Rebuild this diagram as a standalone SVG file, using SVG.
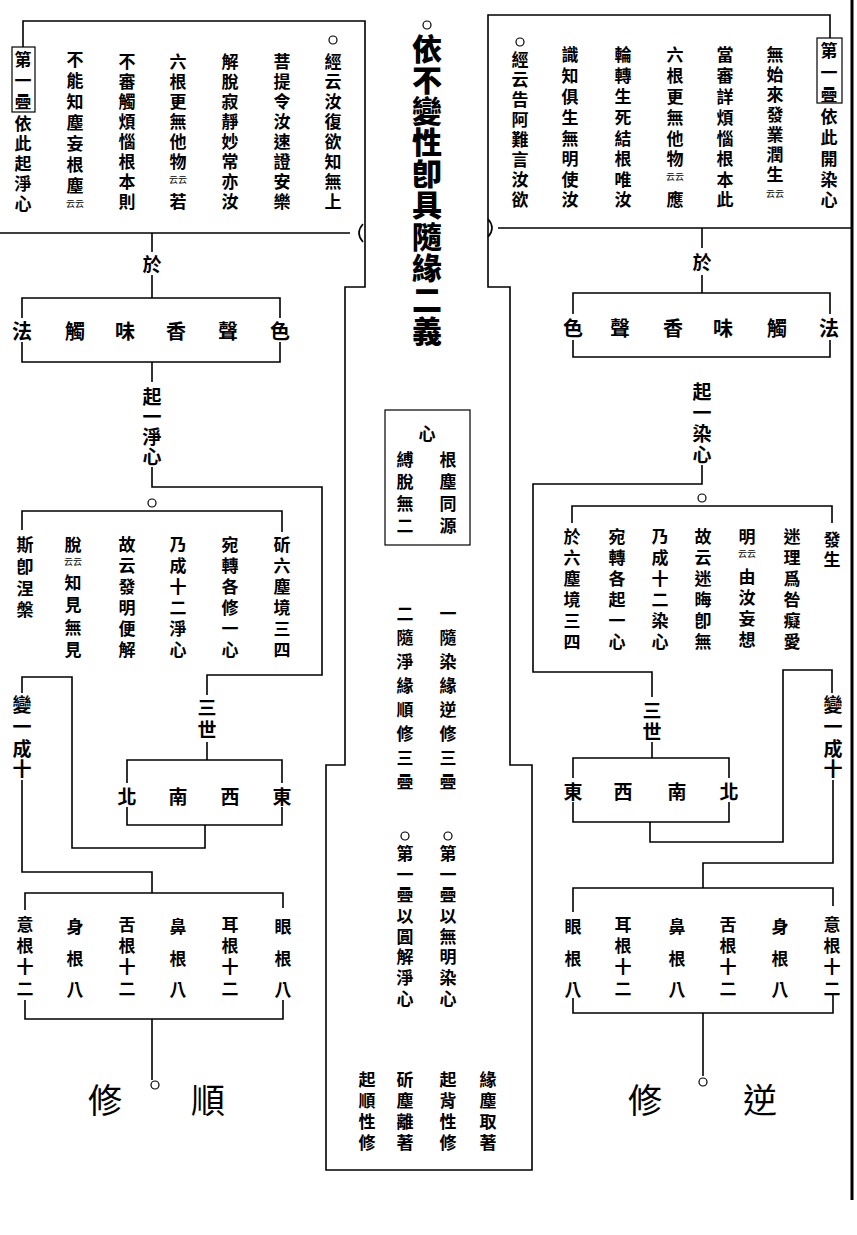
<svg xmlns="http://www.w3.org/2000/svg" width="857" height="1235" viewBox="0 0 857 1235">
<style>
.t{font-family:"Noto Sans CJK TC","Noto Sans CJK SC",sans-serif;font-weight:700;text-anchor:middle;dominant-baseline:central;fill:#000}
.f17{font-size:17px}
.f19{font-size:19px}
.f20{font-size:20px}
.f30{font-size:30px;font-weight:900}
.f34{font-size:34px;font-weight:400}
.sm{font-size:9px;font-weight:400}
.ln{stroke:#000;stroke-width:1.6;fill:none}
.bx{stroke:#000;stroke-width:1.2;fill:none}
.c{stroke:#000;stroke-width:1.2;fill:#fff}
</style>
<rect width="857" height="1235" fill="#fff"/>
<line x1="852" y1="0" x2="852" y2="1200" stroke="#000" stroke-width="3"/>

<g id="connectors" class="ln">
<polyline points="23,47 23,21 365,21 365,287 345,287 345,765 326,765 326,1170 532,1170 532,765 510,765 510,287 488,287 488,15 830,15 830,38"/>
<line x1="0" y1="233" x2="350" y2="233"/>
<path d="M363,224 Q355,233 363,242"/>
<line x1="498" y1="228" x2="852" y2="228"/>
<path d="M488,219 Q496,228 488,237"/>
<line x1="152" y1="233" x2="152" y2="252"/>
<line x1="152" y1="275" x2="152" y2="298"/>
<line x1="152" y1="362" x2="152" y2="382"/>
<polyline points="152,467 152,487 322,487 322,675 207,675 207,695"/>
<line x1="207" y1="742" x2="207" y2="760"/>
<polyline points="205,825 205,848 72,848 72,677 22,677 22,693"/>
<polyline points="22,780 22,872 152,872 152,893"/>
<line x1="152" y1="1019" x2="152" y2="1080"/>
<line x1="702" y1="228" x2="702" y2="248"/>
<line x1="702" y1="275" x2="702" y2="293"/>
<polyline points="702,465 702,484 533,484 533,672 652,672 652,697"/>
<line x1="652" y1="742" x2="652" y2="758"/>
<polyline points="650,822 650,842 783,842 783,670 832,670 832,693"/>
<polyline points="833,780 833,863 703,863 703,888"/>
<line x1="703" y1="1013" x2="703" y2="1076"/>
</g>

<g id="title">
<circle class="c" cx="427" cy="25" r="4"/>
<text class="t f30" x="427 427 427 427 427 427 427 427 427 427" y="47 78 109 140 172 203 235 266 298 329">依不變性卽具隨緣二義</text>
</g>

<g id="top-left-box">
<circle class="c" cx="333" cy="40" r="4"/>
<text class="t f17" x="333 333 333 333 333 333 333 333" y="60 80 100 120 140 160 180 200">經云汝復欲知無上</text>
<text class="t f17" x="282 282 282 282 282 282 282 282" y="60 80 100 120 140 160 180 200">菩提令汝速證安樂</text>
<text class="t f17" x="230 230 230 230 230 230 230 230" y="60 80 100 120 140 160 180 200">解脫寂靜妙常亦汝</text>
<text class="t f17" x="178 178 178 178 178 178" y="60 80 100 120 140 160">六根更無他物</text>
<text class="t sm" x="178" y="179">云云</text>
<text class="t f17" x="178" y="200">若</text>
<text class="t f17" x="127 127 127 127 127 127 127 127" y="60 80 100 120 140 160 180 200">不審觸煩惱根本則</text>
<text class="t f17" x="75 75 75 75 75 75 75" y="58 79 100 121 142 163 184">不能知塵妄根塵</text>
<text class="t sm" x="75" y="203">云云</text>
<rect class="bx" x="12" y="47" width="23" height="65"/>
<text class="t f17" x="23 23 23" y="58 79 100">第一疊</text>
<text class="t f17" x="23 23 23 23 23" y="122 142 162 182 202">依此起淨心</text>
</g>

<g id="top-right-box">
<rect class="bx" x="817" y="38" width="25" height="65"/>
<text class="t f17" x="829 829 829" y="49 71 93">第一疊</text>
<text class="t f17" x="829 829 829 829 829" y="115 136 157 178 198">依此開染心</text>
<text class="t f17" x="775 775 775 775 775 775 775" y="53 73 93 113 133 153 173">無始來發業潤生</text>
<text class="t sm" x="775" y="193">云云</text>
<text class="t f17" x="725 725 725 725 725 725 725 725" y="53 74 95 116 137 157 178 198">當審詳煩惱根本此</text>
<text class="t f17" x="675 675 675 675 675 675" y="53 74 95 116 137 157">六根更無他物</text>
<text class="t sm" x="675" y="176">云云</text>
<text class="t f17" x="675" y="198">應</text>
<text class="t f17" x="623 623 623 623 623 623 623 623" y="53 74 95 116 137 157 178 198">輪轉生死結根唯汝</text>
<text class="t f17" x="570 570 570 570 570 570 570 570" y="53 74 95 116 137 157 178 198">識知俱生無明使汝</text>
<circle class="c" cx="520" cy="42" r="4"/>
<text class="t f17" x="520 520 520 520 520 520 520 520" y="58 78 98 118 138 158 178 198">經云告阿難言汝欲</text>
</g>

<g id="label-yu-left"><text class="t f19" x="152" y="263">於</text></g>
<g id="label-yu-right"><text class="t f19" x="702" y="261">於</text></g>

<g id="six-dust-left">
<polyline class="ln" points="22,318 22,298 280,298 280,318"/>
<polyline class="ln" points="22,342 22,362 280,362 280,342"/>
<text class="t f20" x="22 75 125 176 228 280" y="330 330 330 330 330 330">法觸味香聲色</text>
</g>

<g id="six-dust-right">
<polyline class="ln" points="573,314 573,293 830,293 830,314"/>
<polyline class="ln" points="573,340 573,357 830,357 830,340"/>
<text class="t f20" x="573 620 673 723 777 829" y="327 327 327 327 327 327">色聲香味觸法</text>
</g>

<g id="label-pure-mind"><text class="t f19" x="152 152 152 152" y="395 415 435 455">起一淨心</text></g>
<g id="label-defiled-mind"><text class="t f19" x="702 702 702 702" y="390 411 432 453">起一染心</text></g>

<g id="group-left-mid">
<circle class="c" cx="152" cy="503" r="4"/>
<polyline class="ln" points="22,530 22,511 282,511 282,532"/>
<text class="t f17" x="282 282 282 282 282 282" y="543 564 585 606 627 648">斫六塵境三四</text>
<text class="t f17" x="230 230 230 230 230 230" y="543 564 585 606 627 648">宛轉各修一心</text>
<text class="t f17" x="178 178 178 178 178 178" y="543 564 585 606 627 648">乃成十二淨心</text>
<text class="t f17" x="127 127 127 127 127 127" y="543 564 585 606 627 648">故云發明便解</text>
<text class="t f17" x="73" y="543">脫</text>
<text class="t sm" x="73" y="561">云云</text>
<text class="t f17" x="73 73 73 73" y="581 603 626 648">知見無見</text>
<text class="t f17" x="25 25 25 25" y="543 565 587 608">斯卽涅槃</text>
</g>

<g id="group-right-mid">
<circle class="c" cx="702" cy="498" r="4"/>
<polyline class="ln" points="572,523 572,506 832,506 832,523"/>
<text class="t f17" x="832 832" y="538 558">發生</text>
<text class="t f17" x="792 792 792 792 792 792" y="535 556 577 598 619 640">迷理爲咎癡愛</text>
<text class="t f17" x="747" y="535">明</text>
<text class="t sm" x="747" y="553">云云</text>
<text class="t f17" x="747 747 747 747" y="575 596 617 638">由汝妄想</text>
<text class="t f17" x="703 703 703 703 703 703" y="535 556 577 598 619 640">故云迷晦卽無</text>
<text class="t f17" x="660 660 660 660 660 660" y="535 556 577 598 619 640">乃成十二染心</text>
<text class="t f17" x="617 617 617 617 617 617" y="535 556 577 598 619 640">宛轉各起一心</text>
<text class="t f17" x="572 572 572 572 572 572" y="535 556 577 598 619 640">於六塵境三四</text>
</g>

<g id="label-three-left"><text class="t f19" x="207 207" y="706 728">三世</text></g>
<g id="label-three-right"><text class="t f19" x="652 652" y="709 730">三世</text></g>

<g id="directions-left">
<polyline class="ln" points="127,783 127,760 282,760 282,783"/>
<polyline class="ln" points="127,807 127,825 282,825 282,807"/>
<text class="t f19" x="127 178 230 282" y="795 795 795 795">北南西東</text>
</g>

<g id="directions-right">
<polyline class="ln" points="573,778 573,758 729,758 729,778"/>
<polyline class="ln" points="573,802 573,822 729,822 729,802"/>
<text class="t f19" x="573 623 677 729" y="790 790 790 790">東西南北</text>
</g>

<g id="label-ten-left"><text class="t f19" x="22 22 22 22" y="703 725 747 767">變一成十</text></g>
<g id="label-ten-right"><text class="t f19" x="833 833 833 833" y="703 725 747 767">變一成十</text></g>

<g id="roots-left">
<polyline class="ln" points="25,910 25,893 283,893 283,908"/>
<polyline class="ln" points="25,1000 25,1019 283,1019 283,1000"/>
<text class="t f17" x="283 283 283" y="925 957 988">眼根八</text>
<text class="t f17" x="230 230 230 230" y="923 944 965 987">耳根十二</text>
<text class="t f17" x="178 178 178" y="925 957 988">鼻根八</text>
<text class="t f17" x="127 127 127 127" y="923 944 965 987">舌根十二</text>
<text class="t f17" x="75 75 75" y="925 957 988">身根八</text>
<text class="t f17" x="25 25 25 25" y="923 944 965 987">意根十二</text>
</g>

<g id="roots-right">
<polyline class="ln" points="573,912 573,888 833,888 833,906"/>
<polyline class="ln" points="573,998 573,1013 833,1013 833,994"/>
<text class="t f17" x="573 573 573" y="925 957 988">眼根八</text>
<text class="t f17" x="623 623 623 623" y="923 944 965 987">耳根十二</text>
<text class="t f17" x="677 677 677" y="925 957 988">鼻根八</text>
<text class="t f17" x="728 728 728 728" y="923 944 965 987">舌根十二</text>
<text class="t f17" x="780 780 780" y="925 957 988">身根八</text>
<text class="t f17" x="832 832 832 832" y="923 944 965 987">意根十二</text>
</g>

<g id="center-mind-box">
<rect class="bx" x="385" y="410" width="85" height="135"/>
<text class="t f17" x="427" y="432">心</text>
<text class="t f17" x="448 448 448 448" y="458 480 502 524">根塵同源</text>
<text class="t f17" x="405 405 405 405" y="458 480 502 524">縛脫無二</text>
</g>

<g id="center-two-kinds">
<text class="t f17" x="448 448 448 448 448 448 448 448" y="612 636 660 684 708 732 756 780">一隨染緣逆修三疊</text>
<text class="t f17" x="405 405 405 405 405 405 405 405" y="612 636 660 684 708 732 756 780">二隨淨緣順修三疊</text>
</g>

<g id="center-first-layer">
<circle class="c" cx="448" cy="836" r="4"/>
<text class="t f17" x="448 448 448 448 448 448 448 448" y="852 873 893 914 935 955 976 997">第一疊以無明染心</text>
<circle class="c" cx="405" cy="836" r="4"/>
<text class="t f17" x="405 405 405 405 405 405 405 405" y="852 873 893 914 935 955 976 997">第一疊以圓解淨心</text>
</g>

<g id="center-bottom">
<text class="t f17" x="488 488 488 488" y="1078 1099 1120 1141">緣塵取著</text>
<text class="t f17" x="448 448 448 448" y="1078 1099 1120 1141">起背性修</text>
<text class="t f17" x="405 405 405 405" y="1078 1099 1120 1141">斫塵離著</text>
<text class="t f17" x="367 367 367 367" y="1078 1099 1120 1141">起順性修</text>
</g>

<g id="shun-xiu">
<circle class="c" cx="155" cy="1085" r="4"/>
<text class="t f34" x="105" y="1098">修</text>
<text class="t f34" x="208" y="1098">順</text>
</g>

<g id="ni-xiu">
<circle class="c" cx="703" cy="1082" r="4"/>
<text class="t f34" x="645" y="1098">修</text>
<text class="t f34" x="760" y="1098">逆</text>
</g>
</svg>
